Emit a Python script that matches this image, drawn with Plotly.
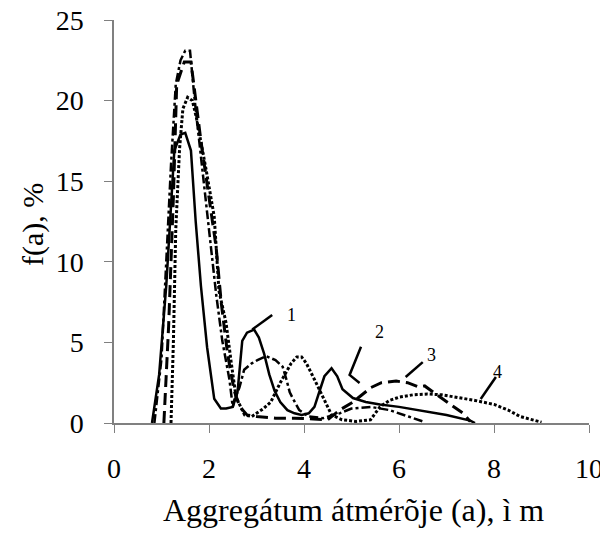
import plotly.graph_objects as go

# Curve 1 (solid)
x1 = [0.8, 0.95, 1.1, 1.27, 1.4, 1.5, 1.62, 1.72, 1.83, 1.96, 2.11, 2.25, 2.36, 2.5, 2.6, 2.7, 2.8, 2.95, 3.05,
      3.16, 3.27, 3.38, 3.5, 3.65, 3.8, 3.95, 4.1, 4.22, 4.33, 4.43, 4.58, 4.7, 4.81, 4.92, 5.03, 5.3, 5.6,
      6.0, 6.5, 7.0, 7.5, 7.6]
y1 = [0, 3, 8.5, 16.9, 17.9, 18.0, 16.9, 12.5, 8.5, 4.7, 1.5, 0.9, 0.9, 1.0, 1.9, 5.1, 5.6, 5.8, 5.3,
      4.3, 3.0, 2.0, 1.3, 0.8, 0.6, 0.5, 0.6, 1.0, 2.0, 2.9, 3.4, 2.9, 2.1, 1.8, 1.55, 1.3, 1.15,
      1.0, 0.75, 0.5, 0.15, 0]

# Curve 2 (dash-dot)
x2 = [0.85, 1.0, 1.1, 1.2, 1.3, 1.4, 1.5, 1.6, 1.7, 1.86, 2.0, 2.15, 2.28, 2.43, 2.5, 2.53, 2.64, 2.74, 2.9,
      3.02, 3.2, 3.4, 3.55, 3.63, 3.7, 3.76, 3.9, 4.1, 4.4, 4.75, 5.0, 5.4, 5.8, 6.2, 6.5]
y2 = [0, 4, 10, 16, 21, 22.5, 23.1, 23.1, 20, 15.5, 12, 8, 5.1, 2.7, 1.0, 1.4, 2.2, 3.3, 3.7,
      3.9, 4.15, 3.9, 3.5, 2.7, 1.9, 1.55, 0.8, 0.4, 0.3, 0.6, 0.9, 1.0, 0.8, 0.4, 0.1]

# Curve 3 (long dash)
x3 = [1.05, 1.15, 1.25, 1.32, 1.48, 1.55, 1.62, 1.83, 2.0, 2.15, 2.26, 2.39, 2.53, 2.65, 2.8, 3.0, 3.4,
      3.8, 4.2, 4.5, 4.75, 5.03, 5.41, 5.63, 5.94, 6.18, 6.4, 6.54, 6.75, 7.07, 7.35, 7.5]
y3 = [0, 6, 14, 21, 22.4, 22.4, 22.4, 17.5, 14, 10.9, 7.4, 4.3, 2.0, 1.0, 0.5, 0.4, 0.3,
      0.3, 0.25, 0.2, 0.8, 1.3, 2.2, 2.5, 2.6, 2.5, 2.25, 2.3, 1.85, 1.2, 0.6, 0.1]

# Curve 4 (dotted)
x4 = [1.2, 1.25, 1.3, 1.38, 1.45, 1.55, 1.65, 1.73, 1.94, 2.11, 2.21, 2.36, 2.47, 2.57, 2.75, 2.9, 3.0,
      3.15, 3.3, 3.5, 3.73, 3.85, 3.95, 4.05, 4.22, 4.43, 4.58, 4.8, 5.1, 5.4, 5.6, 5.8, 6.0, 6.3, 6.6,
      6.9, 7.2, 7.6, 8.0, 8.3, 8.55, 8.8, 9.0]
y4 = [0, 5, 12, 17, 19.5, 20.2, 20, 19, 15.7, 12.8, 8.2, 6.2, 3.7, 1.6, 0.5, 0.4, 0.6,
      0.9, 1.3, 2.5, 3.7, 4.1, 4.1, 3.7, 2.7, 1.4, 0.5, 0.2, 0.1, 0.2, 1.0, 1.4, 1.6, 1.75, 1.8,
      1.75, 1.6, 1.4, 1.15, 0.8, 0.4, 0.2, 0.05]

x_ticks = [0, 2, 4, 6, 8, 10]
y_ticks = [0, 5, 10, 15, 20, 25]

curve_labels = ["1", "2", "3", "4"]
label_x = [3.73, 5.59, 6.68, 8.08]
label_y = [6.7, 5.64, 4.2, 3.16]
# leader lines (data coords): list of point lists
leaders = [
    [(2.91, 5.8), (3.33, 6.7)],
    [(5.2, 4.73), (4.96, 2.98), (5.17, 2.48)],
    [(6.5, 3.78), (6.14, 2.85)],
    [(8.04, 2.85), (7.72, 1.49)],
]

x_title = "Aggregátum átmérõje (a), ì m"
y_title = "f(a), %"

FONT = "Liberation Serif, Times New Roman, serif"

# figure is placed with the page's 8px body margin, so it is 8px smaller
W, H = 600, 531
L, R, T, B = 106, 19, 12, 116
PW, PH = W - L - R, H - T - B

fig = go.Figure()
fig.add_trace(go.Scatter(x=x1, y=y1, mode="lines", line=dict(color="black", width=2.5, dash="solid")))
fig.add_trace(go.Scatter(x=x2, y=y2, mode="lines", line=dict(color="black", width=2.5, dash="9px,3px,3px,3px")))
fig.add_trace(go.Scatter(x=x3, y=y3, mode="lines", line=dict(color="black", width=3, dash="12px,6px")))
fig.add_trace(go.Scatter(x=x4, y=y4, mode="lines", line=dict(color="black", width=3, dash="3px,2px")))

for pts in leaders:
    path = "M " + " L ".join(f"{px},{py}" for px, py in pts)
    fig.add_shape(type="path", path=path, xref="x", yref="y", line=dict(color="black", width=2.5))

for t, lx, ly in zip(curve_labels, label_x, label_y):
    fig.add_annotation(x=lx, y=ly, text=t, showarrow=False, font=dict(family=FONT, size=18, color="black"))

# axis titles as annotations (paper coords)
fig.add_annotation(xref="paper", yref="paper", x=(353 - 8 - L) / PW, y=-(510 - 8 - (T + PH)) / PH,
                   text=x_title, showarrow=False, xanchor="center", yanchor="middle",
                   font=dict(family=FONT, size=32, color="black"))
fig.add_annotation(xref="paper", yref="paper", x=-(L - (33 - 8)) / PW, y=(T + PH - (225 - 8)) / PH,
                   text=y_title, showarrow=False, xanchor="center", yanchor="middle", textangle=-90,
                   font=dict(family=FONT, size=30, color="black"))

fig.update_layout(
    width=W, height=H,
    margin=dict(l=L, r=R, t=T, b=B),
    paper_bgcolor="white", plot_bgcolor="white",
    showlegend=False,
    font=dict(family=FONT, color="black"),
)
fig.update_xaxes(
    range=[0, 10], tickvals=x_ticks, ticktext=[str(v) for v in x_ticks],
    showgrid=False, zeroline=False, showline=True, linecolor="#808080", linewidth=1.5,
    ticks="outside", ticklen=8, tickcolor="#808080", tickwidth=1,
    tickfont=dict(family=FONT, size=28), ticklabelstandoff=12, automargin=False,
    ticklabeloverflow="allow",
)
fig.update_yaxes(
    range=[0, 25], tickvals=y_ticks, ticktext=[str(v) for v in y_ticks],
    showgrid=False, zeroline=False, showline=True, linecolor="#808080", linewidth=1.5,
    ticks="outside", ticklen=8, tickcolor="#808080", tickwidth=1,
    tickfont=dict(family=FONT, size=28), ticklabelstandoff=15, automargin=False,
    ticklabeloverflow="allow",
)

fig.write_html("out.html")
